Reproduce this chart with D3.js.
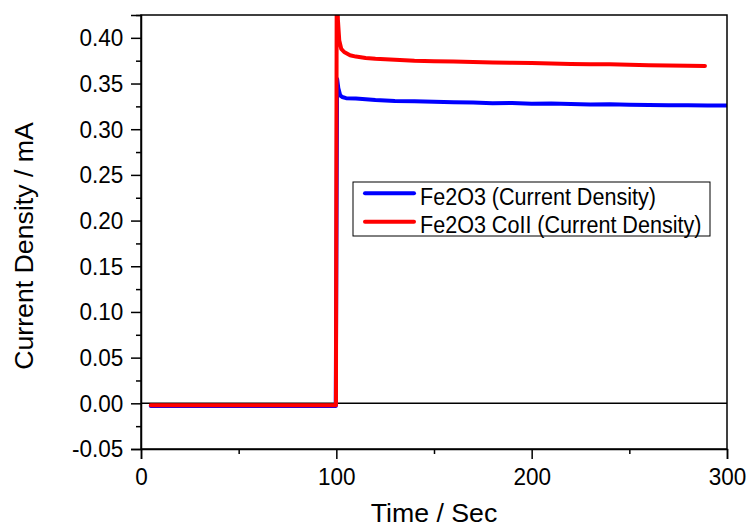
<!DOCTYPE html>
<html>
<head>
<meta charset="utf-8">
<script src="https://cdn.jsdelivr.net/npm/d3@7"></script>
<style>
  html, body { margin: 0; padding: 0; background: #fff; }
  svg { display: block; font-family: "Liberation Sans", Arial, sans-serif; }
</style>
</head>
<body>
<svg id="chart" width="750" height="529"></svg>
<script>
// Chronoamperometry traces: time (s) vs current density (mA)
const fe2o3Time = [5, 20, 40, 60, 80, 99.7, 100.1, 100.4, 101, 102, 103, 105, 110, 120, 130, 140, 150, 160, 170, 180, 190, 200, 210, 220, 230, 240, 250, 260, 270, 280, 290, 300];
const fe2o3Current = [-0.003, -0.003, -0.003, -0.003, -0.003, -0.003, 0.2, 0.355, 0.345, 0.337, 0.3352, 0.334, 0.3335, 0.332, 0.331, 0.3305, 0.33, 0.3295, 0.3292, 0.3285, 0.3287, 0.328, 0.3281, 0.3275, 0.3271, 0.3273, 0.3268, 0.3266, 0.3263, 0.3262, 0.326, 0.326];

const coTime = [5, 20, 40, 60, 80, 99.8, 100.2, 100.8, 101.5, 102.5, 104, 107, 110, 115, 120, 130, 140, 150, 160, 170, 180, 190, 200, 210, 220, 230, 240, 250, 260, 270, 280, 288.7];
const coCurrent = [-0.002, -0.002, -0.002, -0.002, -0.002, -0.002, 0.47, 0.42, 0.397, 0.388, 0.3845, 0.381, 0.3795, 0.378, 0.377, 0.376, 0.375, 0.3745, 0.374, 0.3735, 0.373, 0.3728, 0.3725, 0.372, 0.3715, 0.3712, 0.371, 0.3705, 0.37, 0.3698, 0.3695, 0.3693];

const xTicks = [0, 100, 200, 300];
const xMinorTicks = [50, 150, 250];
const yTicks = [-0.05, 0, 0.05, 0.1, 0.15, 0.2, 0.25, 0.3, 0.35, 0.4];
const yMinorTicks = [-0.025, 0.025, 0.075, 0.125, 0.175, 0.225, 0.275, 0.325, 0.375, 0.425];

const seriesNames = ["Fe2O3 (Current Density)", "Fe2O3 CoII (Current Density)"];
const seriesColors = ["#0000ff", "#ff0000"];

const svg = d3.select("#chart");
const margin = { left: 141, right: 23, top: 15, bottom: 80 };
const W = 750, H = 529;
const x0 = margin.left, x1 = W - margin.right;
const y0 = H - margin.bottom, y1 = margin.top;

const x = d3.scaleLinear().domain([0, 300]).range([x0, x1]);
const y = d3.scaleLinear().domain([-0.05, 0.425]).range([y0, y1]);

const fmt = v => d3.format(".2f")(v).replace("\u2212", "-");
const FONT = "'Liberation Sans', Arial, sans-serif";
const tickSquash = 0.92;   // tick numerals are slightly condensed
const legendSquash = 0.88; // legend text is condensed a little more

svg.append("defs").append("clipPath").attr("id", "plotClip")
  .append("rect").attr("x", x0).attr("y", y1).attr("width", x1 - x0).attr("height", y0 - y1);

// zero reference line
svg.append("line")
  .attr("x1", x0).attr("x2", x1).attr("y1", y(0)).attr("y2", y(0))
  .attr("stroke", "#000").attr("stroke-width", 1.5);

// traces
const line = d3.line().x(d => x(d[0])).y(d => y(d[1]));
const series = [
  d3.zip(fe2o3Time, fe2o3Current),
  d3.zip(coTime, coCurrent)
];
const g = svg.append("g").attr("clip-path", "url(#plotClip)");
series.forEach((s, i) => {
  g.append("path")
    .datum(s)
    .attr("d", line)
    .attr("fill", "none")
    .attr("stroke", seriesColors[i])
    .attr("stroke-width", 4)
    .attr("stroke-linejoin", "round")
    .attr("stroke-linecap", "round");
});

// frame
svg.append("rect")
  .attr("x", x0).attr("y", y1).attr("width", x1 - x0).attr("height", y0 - y1)
  .attr("fill", "none").attr("stroke", "#000").attr("stroke-width", 1.5);

// axes
const xAxis = svg.append("g").attr("transform", `translate(0,${y0})`)
  .call(d3.axisBottom(x).tickValues(xTicks).tickFormat(d3.format("d")).tickSize(10).tickPadding(9));
svg.append("g").attr("transform", `translate(0,${y0})`)
  .call(d3.axisBottom(x).tickValues(xMinorTicks).tickFormat("").tickSize(5))
  .select(".domain").remove();

const yAxis = svg.append("g").attr("transform", `translate(${x0},0)`)
  .call(d3.axisLeft(y).tickValues(yTicks).tickFormat(fmt).tickSize(10).tickPadding(8));
svg.append("g").attr("transform", `translate(${x0},0)`)
  .call(d3.axisLeft(y).tickValues(yMinorTicks).tickFormat("").tickSize(5))
  .select(".domain").remove();

svg.selectAll(".tick line").attr("stroke", "#000").attr("stroke-width", 1.5);
svg.selectAll(".domain").attr("stroke", "#000").attr("stroke-width", 1.5);
svg.selectAll(".tick text")
  .attr("font-size", 24.5).attr("fill", "#000")
  .style("font-family", FONT)
  .attr("transform", `scale(${tickSquash},1)`);
// keep y labels' right edge at the same spot after squashing
yAxis.selectAll(".tick text").attr("x", -17.7 / tickSquash);

// axis titles
svg.append("text")
  .attr("x", (x0 + x1) / 2).attr("y", 522)
  .attr("text-anchor", "middle").attr("font-size", 26.7).text("Time / Sec");
svg.append("text")
  .attr("transform", `translate(33,246) rotate(-90)`)
  .attr("text-anchor", "middle").attr("font-size", 26.7).text("Current Density / mA");

// legend
const leg = svg.append("g");
leg.append("rect")
  .attr("x", 353).attr("y", 182).attr("width", 357).attr("height", 54)
  .attr("fill", "#fff").attr("stroke", "#000").attr("stroke-width", 1);
const baselines = [205, 232.7];
const swatchY = [193.3, 221.7];
seriesNames.forEach((name, i) => {
  leg.append("line")
    .attr("x1", 365).attr("x2", 414).attr("y1", swatchY[i]).attr("y2", swatchY[i])
    .attr("stroke", seriesColors[i]).attr("stroke-width", 4).attr("stroke-linecap", "round");
  leg.append("text")
    .attr("transform", `translate(420,${baselines[i]}) scale(${legendSquash},1)`)
    .attr("font-size", 24.5).text(name);
});
</script>
</body>
</html>
